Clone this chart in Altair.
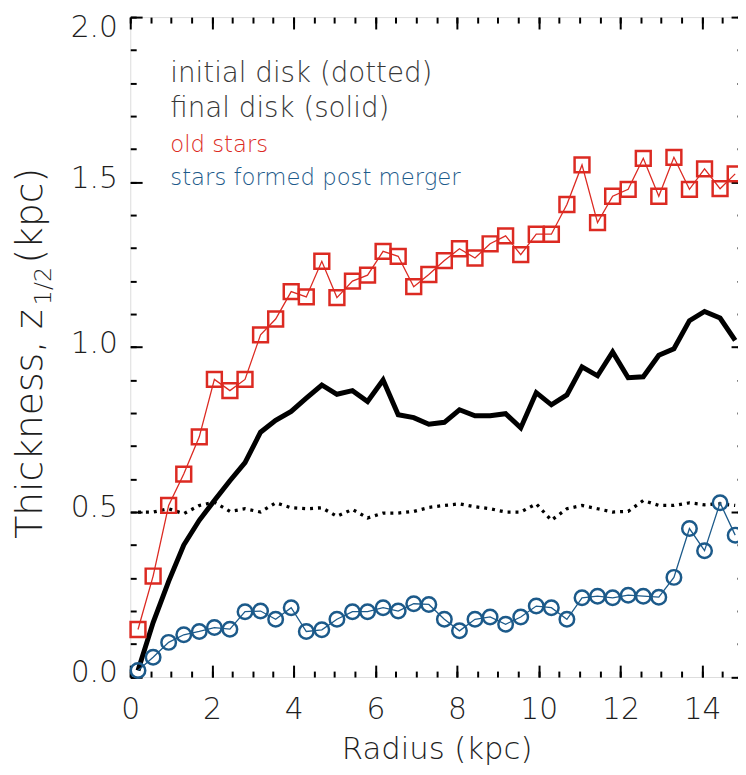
import altair as alt
import pandas as pd

# ---- data ----
radius = [0.19, 0.56, 0.94, 1.31, 1.69, 2.06, 2.44, 2.81, 3.19, 3.56,
          3.94, 4.31, 4.69, 5.06, 5.44, 5.81, 6.19, 6.56, 6.94, 7.31,
          7.69, 8.06, 8.44, 8.81, 9.19, 9.56, 9.94, 10.31, 10.69, 11.06,
          11.44, 11.81, 12.19, 12.56, 12.94, 13.31, 13.69, 14.06, 14.44, 14.81]

old_stars = [0.144, 0.306, 0.52, 0.615, 0.728, 0.902, 0.868, 0.902, 1.037, 1.085,
             1.168, 1.152, 1.26, 1.15, 1.2, 1.218, 1.29, 1.275, 1.183, 1.22,
             1.262, 1.298, 1.27, 1.313, 1.337, 1.28, 1.342, 1.342, 1.432, 1.552,
             1.377, 1.457, 1.478, 1.572, 1.457, 1.575, 1.478, 1.54, 1.48, 1.525]

new_stars = [0.02, 0.06, 0.105, 0.128, 0.138, 0.15, 0.145, 0.198, 0.2, 0.175,
             0.21, 0.138, 0.143, 0.175, 0.198, 0.198, 0.21, 0.2, 0.222, 0.22,
             0.175, 0.14, 0.175, 0.182, 0.16, 0.182, 0.215, 0.21, 0.175, 0.24,
             0.245, 0.24, 0.248, 0.245, 0.242, 0.302, 0.45, 0.383, 0.528, 0.43]

final_disk = [0.02, 0.165, 0.29, 0.40, 0.475, 0.535, 0.595, 0.65, 0.742, 0.778,
              0.805, 0.845, 0.885, 0.857, 0.868, 0.835, 0.90, 0.795, 0.786, 0.766,
              0.772, 0.81, 0.792, 0.792, 0.798, 0.755, 0.862, 0.825, 0.855, 0.94,
              0.913, 0.985, 0.907, 0.91, 0.975, 0.995, 1.08, 1.108, 1.088, 1.02]

initial_disk = [0.5, 0.5, 0.51, 0.495, 0.52, 0.53, 0.502, 0.51, 0.5, 0.528,
                0.513, 0.51, 0.513, 0.487, 0.508, 0.482, 0.497, 0.497, 0.502, 0.514,
                0.52, 0.525, 0.516, 0.51, 0.5, 0.5, 0.525, 0.475, 0.51, 0.52,
                0.51, 0.5, 0.502, 0.535, 0.52, 0.52, 0.528, 0.522, 0.525, 0.52]

x_major = [0, 2, 4, 6, 8, 10, 12, 14]
x_minor = [0.5 * k for k in range(31)]
y_major = [0.0, 0.5, 1.0, 1.5, 2.0]
y_minor = [0.1 * k for k in range(21)]

legend_text = ["initial disk (dotted)", "final disk (solid)", "old stars",
               "stars formed post merger"]
ytitle_parts = ["Thickness, z", "1/2", " (kpc)"]

df = pd.DataFrame({"r": radius, "old": old_stars, "new": new_stars,
                   "final": final_disk, "initial": initial_disk})

FONT = "DejaVu Sans"
RED = "#dc2a22"
BLUE = "#1c5a8a"
GREY = "#383838"
INK = "#1e1e1e"

xs = alt.Scale(domain=[0, 15], nice=False, zero=False)
ys = alt.Scale(domain=[0, 2], nice=False, zero=False)


def tick_axis(orient, values, size):
    return alt.Axis(orient=orient, values=values, offset=-size, tickSize=size,
                    labels=False, domain=False, grid=False, title=None,
                    tickColor="black", tickWidth=2)


ax_x_lab = alt.Axis(orient="bottom", values=x_major, ticks=False, domain=False,
                    grid=False, labelPadding=18, labelFont=FONT, labelFontSize=30,
                    labelFontWeight=200, labelColor=INK, labelOverlap=False,
                    labelFlush=False,
                    title="Radius (kpc)", titleFont=FONT, titleFontSize=31,
                    titleFontWeight=200, titleColor=INK, titlePadding=10)
ax_y_lab = alt.Axis(orient="left", values=y_major, ticks=False, domain=False,
                    grid=False, format=".1f", labelPadding=13, labelFont=FONT,
                    labelFontSize=30, labelFontWeight=200, labelColor=INK,
                    labelOverlap=False, labelFlush=False,
                    labelOffset={"condition": {"test": "datum.value >= 1.99",
                                               "value": 11}, "value": -4},
                    title=None)

base = alt.Chart(df)

dotted = base.mark_line(color="black", strokeWidth=3.3, strokeDash=[3, 5]).encode(
    x=alt.X("r:Q", scale=xs, axis=ax_x_lab),
    y=alt.Y("initial:Q", scale=ys, axis=ax_y_lab))

solid = base.mark_line(color="black", strokeWidth=5).encode(
    x=alt.X("r:Q", scale=xs, axis=tick_axis("bottom", x_major, 12)),
    y=alt.Y("final:Q", scale=ys, axis=tick_axis("left", y_major, 12)))

red_line = base.mark_line(color=RED, strokeWidth=1.3).encode(
    x=alt.X("r:Q", scale=xs, axis=tick_axis("bottom", x_minor, 6)),
    y=alt.Y("old:Q", scale=ys, axis=tick_axis("left", y_minor, 6)))

red_pts = base.mark_point(shape="square", filled=False, color=RED, size=225,
                          strokeWidth=2.5, opacity=1).encode(
    x=alt.X("r:Q", scale=xs, axis=tick_axis("top", x_major, 12)),
    y=alt.Y("old:Q", scale=ys, axis=tick_axis("right", y_major, 12)))

blue_line = base.mark_line(color=BLUE, strokeWidth=1.3).encode(
    x=alt.X("r:Q", scale=xs, axis=tick_axis("top", x_minor, 6)),
    y=alt.Y("new:Q", scale=ys, axis=tick_axis("right", y_minor, 6)))

blue_pts = base.mark_point(shape="circle", filled=False, color=BLUE, size=215,
                           strokeWidth=2.5, opacity=1).encode(
    x=alt.X("r:Q", scale=xs, axis=None),
    y=alt.Y("new:Q", scale=ys, axis=None))

one = pd.DataFrame({"k": [0]})


def label(text, x, y, size, color, **kw):
    return alt.Chart(one).mark_text(font=FONT, fontSize=size, fontWeight=200,
                                    color=color, align="left",
                                    baseline="alphabetic", **kw).encode(
        x=alt.value(x), y=alt.value(y), text=alt.value(text))


legend = [
    label(legend_text[0], 40.5, 65.5, 28, GREY),
    label(legend_text[1], 40.5, 100.5, 28, GREY),
    label(legend_text[2], 40.5, 136.5, 23, RED),
    label(legend_text[3], 40.5, 169.5, 23, BLUE),
]

ty0 = 527
ytitle = [
    label(ytitle_parts[0], -89, ty0, 38, INK, angle=270),
    label(ytitle_parts[1], -80, ty0 - 236, 24, INK, angle=270),
    label(ytitle_parts[2], -89, ty0 - 278, 38, INK, angle=270),
]

chart = alt.layer(dotted, solid, red_line, red_pts, blue_line, blue_pts,
                  *legend, *ytitle).resolve_scale(
    x="shared", y="shared").resolve_axis(
    x="independent", y="independent").properties(
    width=619, height=666.7,
    autosize=alt.AutoSizeParams(type="none"),
    padding={"left": 123.5, "top": 5.3, "right": -5, "bottom": 87},
).configure_view(stroke="black", strokeWidth=2.5).configure(background="white")

chart.save("out.html", embed_options={"renderer": "svg", "actions": False})
